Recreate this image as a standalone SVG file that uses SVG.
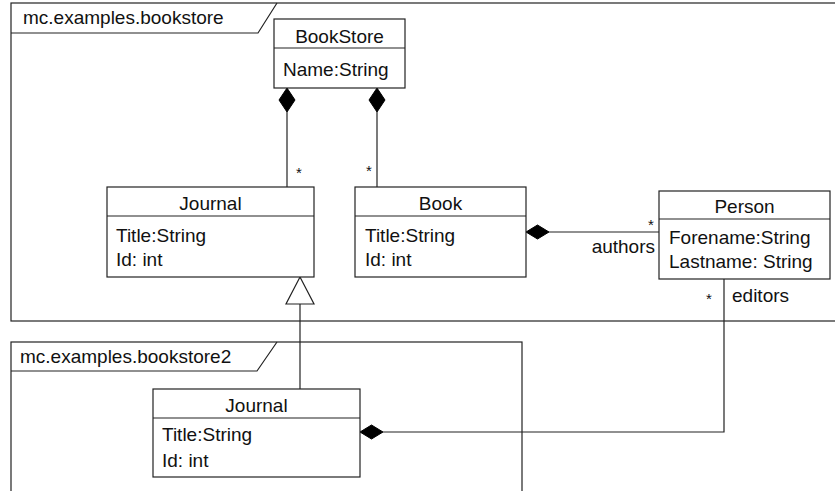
<svg xmlns="http://www.w3.org/2000/svg" width="835" height="491" viewBox="0 0 835 491">
<style>
.box{fill:#fff;stroke:#222;stroke-width:1.2}
.frame{fill:none;stroke:#222;stroke-width:1.2}
.ln{fill:none;stroke:#222;stroke-width:1.2}
text{font-family:"Liberation Sans",Arial,sans-serif;font-size:19px;fill:#111}
.c{text-anchor:middle}
.star{font-size:15px}
.dia{fill:#000;stroke:#000;stroke-width:1}
.tri{fill:#fff;stroke:#222;stroke-width:1.2}
</style>
<rect width="835" height="491" fill="#fff"/>
<g id="frame-bookstore">
<rect class="frame" x="11" y="3" width="850" height="318"/>
<polyline class="ln" points="11,33 258,33 277,3"/>
<text x="23" y="24">mc.examples.bookstore</text>
</g>
<g id="frame-bookstore2">
<rect class="frame" x="11" y="342" width="511" height="170"/>
<polyline class="ln" points="11,371 257,371 277,342"/>
<text x="20" y="363">mc.examples.bookstore2</text>
</g>
<g id="connectors">
<line class="ln" x1="287" y1="112" x2="287" y2="187"/>
<polygon class="dia" points="287,88 295,100 287,112 279,100"/>
<line class="ln" x1="377" y1="112" x2="377" y2="187"/>
<polygon class="dia" points="377,88 385,100 377,112 369,100"/>
<line class="ln" x1="549" y1="232" x2="659" y2="232"/>
<polygon class="dia" points="526,232 537.5,225 549,232 537.5,239"/>
<line class="ln" x1="300" y1="304" x2="300" y2="389"/>
<polygon class="tri" points="300,277 314,304 286,304"/>
<polyline class="ln" points="724,279 724,432 383,432"/>
<polygon class="dia" points="360,432 371.5,425 383,432 371.5,439"/>
<text class="star" x="296" y="178">*</text>
<text class="star" x="366" y="176">*</text>
<text class="star" x="648" y="230">*</text>
<text x="655" y="253" text-anchor="end">authors</text>
<text class="star" x="706" y="304">*</text>
<text x="732" y="302">editors</text>
</g>
<g id="BookStore">
<rect class="box" x="274" y="19" width="131" height="69"/>
<line class="ln" x1="274" y1="48" x2="405" y2="48"/>
<text class="c" x="339.5" y="43">BookStore</text>
<text x="283" y="76">Name:String</text>
</g>
<g id="Journal">
<rect class="box" x="107" y="187" width="207" height="90"/>
<line class="ln" x1="107" y1="216" x2="314" y2="216"/>
<text class="c" x="210.5" y="210">Journal</text>
<text x="116" y="242">Title:String</text>
<text x="116" y="266">Id: int</text>
</g>
<g id="Book">
<rect class="box" x="355" y="187" width="171" height="90"/>
<line class="ln" x1="355" y1="216" x2="526" y2="216"/>
<text class="c" x="440.5" y="210">Book</text>
<text x="365" y="242">Title:String</text>
<text x="365" y="266">Id: int</text>
</g>
<g id="Person">
<rect class="box" x="659" y="191" width="171" height="88"/>
<line class="ln" x1="659" y1="219" x2="830" y2="219"/>
<text class="c" x="744.5" y="213">Person</text>
<text x="669" y="244">Forename:String</text>
<text x="669" y="268">Lastname: String</text>
</g>
<g id="Journal2">
<rect class="box" x="153" y="389" width="207" height="88"/>
<line class="ln" x1="153" y1="418" x2="360" y2="418"/>
<text class="c" x="256.5" y="412">Journal</text>
<text x="162" y="441">Title:String</text>
<text x="162" y="467">Id: int</text>
</g>
</svg>
